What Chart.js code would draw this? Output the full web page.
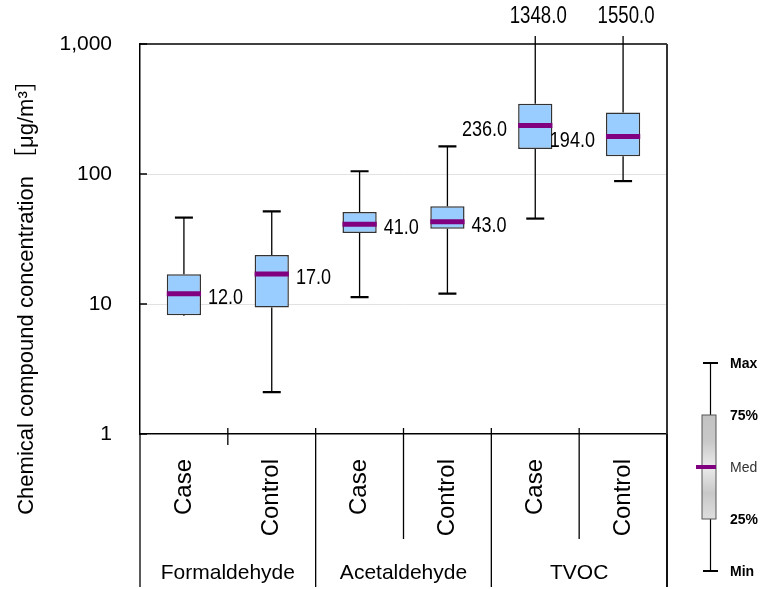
<!DOCTYPE html>
<html><head><meta charset="utf-8">
<script src="https://cdn.jsdelivr.net/npm/chart.js@4/dist/chart.umd.min.js"></script>
<style>html,body{margin:0;padding:0;background:#fff}#wrap{width:781px;height:589px;position:relative}</style>
</head><body><div id="wrap"><canvas id="c" width="781" height="589"></canvas></div>
<script>
// ---- data ----
const categories = ['Case', 'Control', 'Case', 'Control', 'Case', 'Control'];
const groups = ['Formaldehyde', 'Acetaldehyde', 'TVOC'];
const minValues = [8.1, 2.1, 11.3, 12.0, 45.4, 88.2];
const q1Values = [8.2, 9.4, 35.2, 38.0, 156, 137];
const medianValues = [12.0, 17.0, 41.0, 43.0, 236.0, 194.0];
const q3Values = [16.9, 23.8, 51.0, 56.6, 347, 297];
const maxValues = [46.2, 51.6, 105, 163, 1348.0, 1550.0];
const yTickValues = [1, 10, 100, 1000];
const yTickLabels = ['1', '10', '100', '1,000'];
const legendLabels = ['Max', '75%', 'Med', '25%', 'Min'];
const yTitle = 'Chemical compound concentration \uFF3B\u03BCg/m\u00B3\uFF3D';

const FONT = '"Liberation Sans", Arial, "Noto Sans CJK JP", sans-serif';

const boxPlugin = {
  id: 'boxplot',
  afterDatasetsDraw(chart) {
    const ctx = chart.ctx, x = chart.scales.x, y = chart.scales.y;
    const meta = chart.getDatasetMeta(0);
    const area = chart.chartArea;
    ctx.save();
    categories.forEach((_, i) => {
      const cx = x.getPixelForValue(i);
      const half = meta.data[i].width / 2;
      // whiskers
      ctx.strokeStyle = '#000';
      ctx.lineWidth = 1.3;
      const over = maxValues[i] > y.max;
      const yMax = over ? area.top - 8 : y.getPixelForValue(maxValues[i]);
      ctx.beginPath();
      ctx.moveTo(cx, y.getPixelForValue(q3Values[i])); ctx.lineTo(cx, yMax);
      ctx.moveTo(cx, y.getPixelForValue(q1Values[i])); ctx.lineTo(cx, y.getPixelForValue(minValues[i]));
      ctx.stroke();
      ctx.lineWidth = 2.2;
      ctx.beginPath();
      if (!over) { ctx.moveTo(cx - 9, yMax); ctx.lineTo(cx + 9, yMax); }
      const yMin = y.getPixelForValue(minValues[i]);
      if (yMin - y.getPixelForValue(q1Values[i]) > 3) { ctx.moveTo(cx - 9, yMin); ctx.lineTo(cx + 9, yMin); }
      ctx.stroke();
      // median
      const ym = y.getPixelForValue(medianValues[i]);
      ctx.strokeStyle = '#800080';
      ctx.lineWidth = 5;
      ctx.beginPath(); ctx.moveTo(cx - half, ym); ctx.lineTo(cx + half, ym); ctx.stroke();
      // median label
      ctx.fillStyle = '#000';
      ctx.font = '22px ' + FONT;
      ctx.textBaseline = 'alphabetic';
      const leftSide = i >= 4;
      ctx.save();
      ctx.translate(leftSide ? cx - half - 11 : cx + half + 7, ym + 10);
      ctx.scale(0.82, 1);
      ctx.textAlign = leftSide ? 'right' : 'left';
      ctx.fillText(medianValues[i].toFixed(1), 0, 0);
      ctx.restore();
      if (over) {
        ctx.save();
        ctx.font = '23px ' + FONT;
        ctx.translate(cx + 3, 23);
        ctx.scale(0.81, 1);
        ctx.textAlign = 'center';
        ctx.fillText(maxValues[i].toFixed(1), 0, 0);
        ctx.restore();
      }
    });
    ctx.restore();
  },
  afterDraw(chart) {
    const ctx = chart.ctx, x = chart.scales.x, y = chart.scales.y;
    const area = chart.chartArea;
    ctx.save();
    // frame top & right
    ctx.strokeStyle = '#000';
    ctx.lineWidth = 1.5;
    ctx.beginPath(); ctx.moveTo(area.left, area.top); ctx.lineTo(area.right, area.top); ctx.stroke();
    ctx.strokeStyle = '#333';
    ctx.lineWidth = 2;
    ctx.beginPath(); ctx.moveTo(area.right, area.top); ctx.lineTo(area.right, 587); ctx.stroke();
    // inward y ticks
    ctx.strokeStyle = '#000';
    ctx.lineWidth = 1.5;
    yTickValues.forEach(v => {
      const py = y.getPixelForValue(v);
      ctx.beginPath(); ctx.moveTo(area.left, py); ctx.lineTo(area.left + 7, py); ctx.stroke();
    });
    // category separators
    const n = categories.length;
    const slot = (area.right - area.left) / n;
    ctx.lineWidth = 1.3;
    for (let k = 0; k <= n; k++) {
      const bx = area.left + k * slot;
      let bottom;
      if (k % 2 === 0) bottom = 587; else if (k === 1) bottom = 445; else bottom = 539;
      const top = (k > 0 && k < n) ? area.bottom - 6 : area.bottom;
      ctx.beginPath(); ctx.moveTo(bx, top); ctx.lineTo(bx, bottom); ctx.stroke();
    }
    // group labels
    ctx.fillStyle = '#000';
    ctx.font = '21px ' + FONT;
    ctx.textAlign = 'center';
    ctx.textBaseline = 'alphabetic';
    groups.forEach((g, gi) => {
      const gx = (x.getPixelForValue(gi * 2) + x.getPixelForValue(gi * 2 + 1)) / 2;
      ctx.fillText(g, gx, 579);
    });
    // y title
    ctx.save();
    ctx.translate(33, 292);
    ctx.rotate(-Math.PI / 2);
    ctx.font = '22px ' + FONT;
    ctx.textAlign = 'center';
    ctx.textBaseline = 'alphabetic';
    ctx.fillText(yTitle, 0, 0);
    ctx.restore();
    // legend graphic
    const lx = 710.5, ys = [363, 415, 467, 519, 571];
    ctx.strokeStyle = '#000';
    ctx.lineWidth = 1.2;
    ctx.beginPath(); ctx.moveTo(lx, ys[0]); ctx.lineTo(lx, ys[4]); ctx.stroke();
    ctx.lineWidth = 2;
    ctx.beginPath();
    ctx.moveTo(lx - 7.5, ys[0]); ctx.lineTo(lx + 7.5, ys[0]);
    ctx.moveTo(lx - 7.5, ys[4]); ctx.lineTo(lx + 7.5, ys[4]);
    ctx.stroke();
    const grad = ctx.createLinearGradient(0, ys[1], 0, ys[3]);
    grad.addColorStop(0, '#c2c2c2');
    grad.addColorStop(0.25, '#c8c8c8');
    grad.addColorStop(0.5, '#ebebeb');
    grad.addColorStop(0.75, '#c8c8c8');
    grad.addColorStop(1, '#dedede');
    ctx.fillStyle = grad;
    ctx.fillRect(lx - 8.5, ys[1], 14, ys[3] - ys[1]);
    ctx.strokeStyle = '#555';
    ctx.lineWidth = 1;
    ctx.strokeRect(lx - 8.5, ys[1], 14, ys[3] - ys[1]);
    ctx.strokeStyle = '#800080';
    ctx.lineWidth = 4;
    ctx.beginPath(); ctx.moveTo(lx - 14.5, ys[2]); ctx.lineTo(lx + 5.5, ys[2]); ctx.stroke();
    ctx.textAlign = 'left';
    ctx.textBaseline = 'middle';
    legendLabels.forEach((t, k) => {
      const isMed = k === 2;
      ctx.font = (isMed ? '' : 'bold ') + '14px ' + FONT;
      ctx.fillStyle = isMed ? '#333' : '#000';
      ctx.fillText(t, 730, ys[k] + 1);
    });
    ctx.restore();
  }
};

new Chart(document.getElementById('c'), {
  type: 'bar',
  data: {
    labels: categories,
    datasets: [{
      data: categories.map((_, i) => [q1Values[i], q3Values[i]]),
      backgroundColor: '#99CCFF',
      borderColor: '#333333',
      borderWidth: 1.5,
      borderSkipped: false,
      barPercentage: 0.39,
      categoryPercentage: 1
    }]
  },
  options: {
    responsive: false,
    animation: false,
    devicePixelRatio: 1,
    layout: { padding: { top: 44, right: 114, left: 0, bottom: 0 } },
    plugins: { legend: { display: false }, tooltip: { enabled: false } },
    scales: {
      x: {
        offset: true,
        grid: { display: false, drawTicks: false },
        border: { color: '#000', width: 1.5 },
        ticks: {
          font: { family: FONT, size: 24 },
          color: '#000',
          minRotation: 90, maxRotation: 90, autoSkip: false,
          padding: 25
        },
        afterFit: s => { s.height = 155; }
      },
      y: {
        type: 'logarithmic',
        min: 1, max: 1000,
        afterBuildTicks: s => { s.ticks = yTickValues.map(v => ({ value: v })); },
        grid: {
          color: c => (c.tick && (c.tick.value === 10 || c.tick.value === 100)) ? '#e2e2e2' : 'rgba(0,0,0,0)',
          drawTicks: false, lineWidth: 1
        },
        border: { color: '#000', width: 1.5 },
        ticks: {
          callback: (v, idx) => yTickLabels[idx],
          font: { family: FONT, size: 21 },
          color: '#000',
          padding: 28
        },
        afterFit: s => { s.width = 140; }
      }
    }
  },
  plugins: [boxPlugin]
});
</script>
</body></html>
